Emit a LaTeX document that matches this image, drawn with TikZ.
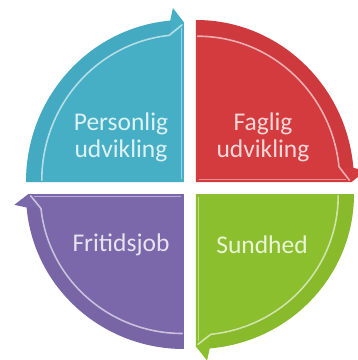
\documentclass[tikz,border=0pt]{standalone}
\usepackage{fontspec}
\setmainfont{Carlito}
\usepackage{tikz}
\usetikzlibrary{positioning}

\definecolor{qblue}{HTML}{46AFC6}
\definecolor{qred}{HTML}{D33B3E}
\definecolor{qgreen}{HTML}{8CBF2E}
\definecolor{qpurple}{HTML}{7A68AB}

\tikzset{
  lbl/.style={inner sep=0pt,align=center,font=\fontsize{25.5}{27}\selectfont},
  rim/.style={white,opacity=0.6,line width=1.6pt,line cap=round}
}

\begin{document}
\begin{tikzpicture}[x=1pt,y=1pt]
\useasboundingbox[fill=white] (0,0) rectangle (358,360);

% quarters, each an arrow round the circle (clockwise)
\foreach \cx/\cy/\rot/\ry/\col in {184/178/0/162/qblue,196/178/-90/162/qred,196/166/-180/155/qgreen,184/166/-270/155/qpurple}{
  \begin{scope}[shift={(\cx,\cy)},xscale=158,yscale=\ry,rotate=\rot]
    \fill[\col] (0,0) -- (-1,0) arc[start angle=180,end angle=95,radius=1]
      -- (-0.07,1.074) -- (0,0.985) -- cycle;
    \fill[\col!80!black,opacity=0.12] (-1,0) arc[start angle=180,end angle=95,radius=1]
      -- (95:0.9) arc[start angle=95,end angle=180,radius=0.9] -- cycle;
    \draw[rim] (-0.9,0.01) arc[start angle=180,end angle=96,radius=0.9] -- (-0.012,0.97);
    \draw[white,opacity=0.45,line width=0.9pt] (-0.015,0.02) -- (-0.015,0.95);
  \end{scope}
}

\node (pers) [lbl,text=white!82!qblue] at (121,223) {Personlig\\udvikling};
\node (fag) [lbl,text=white!80!qred] at (263,223) {Faglig\\udvikling};
\node (frit) [lbl,text=white!82!qpurple] at (121,115) {Fritidsjob};
\node (sund) [lbl,text=white!82!qgreen] at (262,115) {Sundhed};
\end{tikzpicture}
\end{document}
